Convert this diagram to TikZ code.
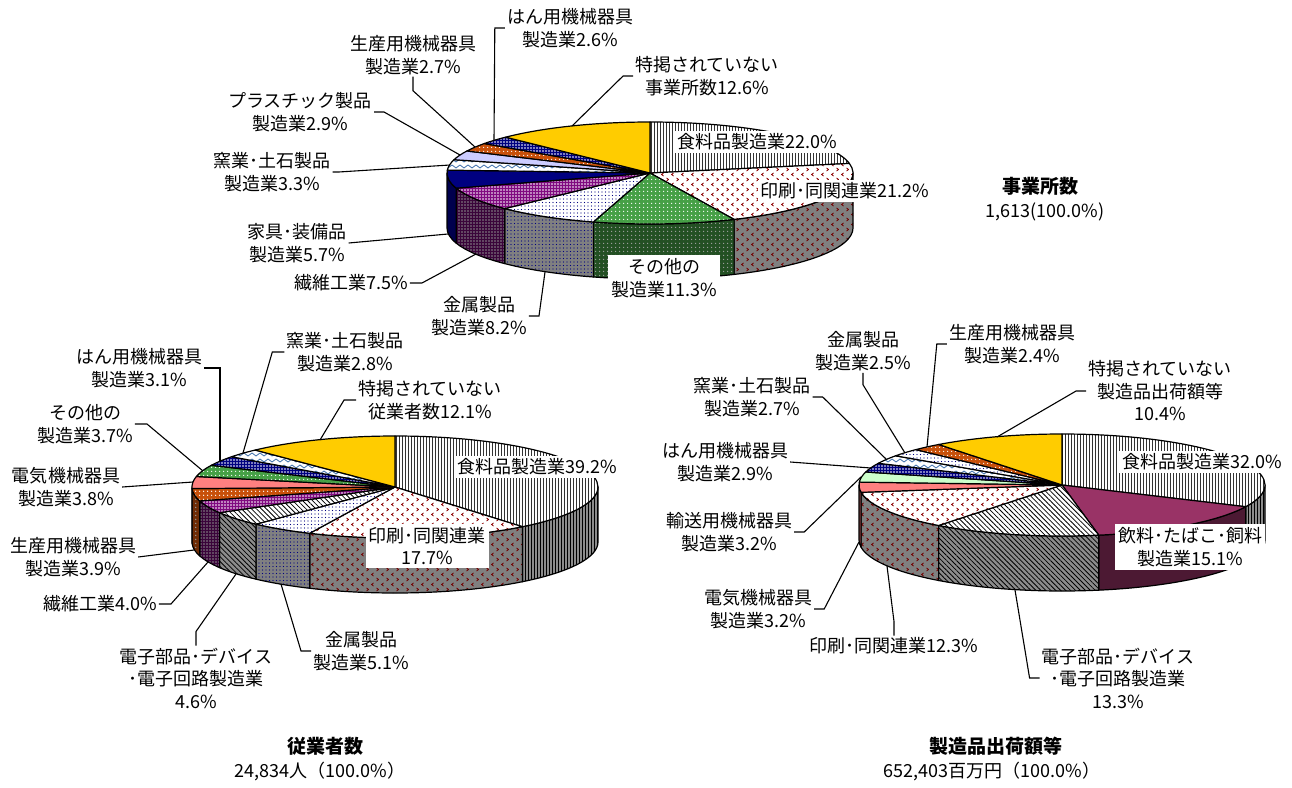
\documentclass[tikz,border=0pt]{standalone}
\usepackage{fontspec}
\newfontfamily\jp{Noto Sans CJK JP}
\usetikzlibrary{patterns.meta}

\definecolor{navy}{RGB}{0,0,128}
\definecolor{ogreen}{RGB}{70,160,70}
\definecolor{purp}{RGB}{128,10,128}
\definecolor{steel}{RGB}{60,110,170}
\definecolor{lavender}{RGB}{204,204,255}
\definecolor{rust}{RGB}{200,80,10}
\definecolor{gold}{RGB}{255,204,0}
\definecolor{salmon}{RGB}{255,128,128}
\definecolor{mint}{RGB}{204,255,204}
\definecolor{plum}{RGB}{153,51,102}

% small carets for the printing slices
\pgfdeclarepattern{
  name=chevron,
  bottom left={\pgfpoint{-.5pt}{-.5pt}},
  top right={\pgfpoint{10.5pt}{10.5pt}},
  tile size={\pgfpoint{10pt}{10pt}},
  code={
    \pgfsetlinewidth{0.8pt}
    \pgfpathmoveto{\pgfpoint{3.5pt}{1pt}}\pgfpathlineto{\pgfpoint{1.5pt}{2.5pt}}\pgfpathlineto{\pgfpoint{3.5pt}{4pt}}
    \pgfpathmoveto{\pgfpoint{6.5pt}{6pt}}\pgfpathlineto{\pgfpoint{8.5pt}{7.5pt}}\pgfpathlineto{\pgfpoint{6.5pt}{9pt}}
    \pgfusepath{stroke}
  }
}
% zigzag for the ceramics slices
\pgfdeclarepattern{
  name=zigzag,
  bottom left={\pgfpoint{-.5pt}{-.5pt}},
  top right={\pgfpoint{8.5pt}{6.5pt}},
  tile size={\pgfpoint{8pt}{6pt}},
  code={
    \pgfsetlinewidth{0.8pt}
    \pgfpathmoveto{\pgfpoint{0pt}{1pt}}\pgfpathlineto{\pgfpoint{4pt}{4pt}}\pgfpathlineto{\pgfpoint{8pt}{1pt}}
    \pgfusepath{stroke}
  }
}

\tikzset{
  wedge/.style={draw=black, line width=1.2pt, line join=round},
  foodtop/.style={wedge, preaction={fill=white}, pattern={Lines[angle=90,distance=3pt,line width=0.7pt]}, pattern color=black!80},
  foodside/.style={wedge, preaction={fill=black!45}, pattern={Lines[angle=90,distance=3pt,line width=0.9pt]}, pattern color=black},
  printtop/.style={wedge, preaction={fill=white}, pattern=chevron, pattern color=red!55!black},
  printside/.style={wedge, preaction={fill=black!50}, pattern=chevron, pattern color=red!45!black},
  othertop/.style={wedge, preaction={fill=ogreen}, pattern={Dots[radius=0.8pt,distance=4pt]}, pattern color=white},
  otherside/.style={wedge, preaction={fill=ogreen!50!black}, pattern={Dots[radius=0.8pt,distance=4pt]}, pattern color=black!35},
  metaltop/.style={wedge, preaction={fill=white}, pattern={Dots[radius=0.6pt,distance=3.5pt]}, pattern color=navy},
  metalside/.style={wedge, preaction={fill=black!50}, pattern={Dots[radius=0.6pt,distance=3.5pt]}, pattern color=navy},
  textiletop/.style={wedge, preaction={fill=purp}, pattern={Dots[radius=0.8pt,distance=3pt]}, pattern color=white},
  textileside/.style={wedge, preaction={fill=purp!45!black}, pattern={Dots[radius=0.8pt,distance=3pt]}, pattern color=black!45},
  furnituretop/.style={wedge, fill=navy},
  furnitureside/.style={wedge, fill=navy!60!black},
  ceramictop/.style={wedge, preaction={fill=white}, pattern=zigzag, pattern color=steel},
  ceramicside/.style={wedge, preaction={fill=black!40}, pattern=zigzag, pattern color=steel},
  plastictop/.style={wedge, fill=lavender},
  plasticside/.style={wedge, fill=lavender!60!black},
  productiontop/.style={wedge, preaction={fill=rust}, pattern={Dots[radius=0.8pt,distance=4pt]}, pattern color=white},
  productionside/.style={wedge, preaction={fill=rust!55!black}, pattern={Dots[radius=0.8pt,distance=4pt]}, pattern color=black!40},
  generaltop/.style={wedge, preaction={fill=navy}, pattern={Dots[radius=0.8pt,distance=3pt]}, pattern color=white},
  generalside/.style={wedge, fill=navy!60!black},
  unlistedtop/.style={wedge, fill=gold},
  unlistedside/.style={wedge, fill=gold!60!black},
  electronictop/.style={wedge, preaction={fill=white}, pattern={Lines[angle=-45,distance=3.5pt,line width=0.8pt]}, pattern color=black},
  electronicside/.style={wedge, preaction={fill=black!45}, pattern={Lines[angle=-45,distance=3.5pt,line width=0.8pt]}, pattern color=black},
  electrictop/.style={wedge, fill=salmon},
  electricside/.style={wedge, fill=salmon!50!black},
  transporttop/.style={wedge, fill=mint},
  transportside/.style={wedge, fill=mint!60!black},
  beveragetop/.style={wedge, fill=plum},
  beverageside/.style={wedge, fill=plum!50!black},
  lbl/.style={font=\jp\fontsize{18}{22.5}\selectfont, align=center, inner sep=2pt},
  box/.style={lbl, fill=white, inner sep=3pt},
  leader/.style={draw=black, line width=1.1pt},
  ttl/.style={font=\jp\bfseries\fontsize{19}{23}\selectfont, inner sep=1pt},
  total/.style={font=\jp\fontsize{18}{22}\selectfont, inner sep=1pt}
}

% one slice: centre, percent, style name (side first, then top face)
\newcommand{\drawwedge}[3]{%
  \pgfmathsetmacro\wa{\wcum}%
  \pgfmathsetmacro\wb{\wcum+3.6*#2}%
  \xdef\wcum{\wb}%
  \pgfmathsetmacro\wsa{max(\wa,0)}%
  \pgfmathsetmacro\wsb{min(\wb,180)}%
  \pgfmathtruncatemacro\wvis{\wsb>\wsa}%
  \ifnum\wvis=1
    \draw[#3side] (#1) ++(\wsa:203 and 51) arc[start angle=\wsa, end angle=\wsb, x radius=203, y radius=51]
      -- ++(0,55) arc[start angle=\wsb, end angle=\wsa, x radius=203, y radius=51] -- cycle;
  \fi
  \draw[#3top] (#1) -- ++(\wa:203 and 51) arc[start angle=\wa, end angle=\wb, x radius=203, y radius=51] -- cycle;
}

\begin{document}
\begin{tikzpicture}[x=1pt, y=-1pt]
  \useasboundingbox (0,0) rectangle (1292,787);

  % Establishments
  \coordinate (ofs-c) at (650,173);
  \gdef\wcum{-90}
  \foreach \p/\nm in {22.0/food, 21.2/print, 11.3/other, 8.2/metal, 7.5/textile, 5.7/furniture,
      3.3/ceramic, 2.9/plastic, 2.7/production, 2.6/general, 12.6/unlisted}
    {\drawwedge{ofs-c}{\p}{\nm}}

  \node[lbl] (ofs-general) at (570,28) {はん用機械器具\\製造業2.6\%};
  \node[lbl] (ofs-production) at (413,55) {生産用機械器具\\製造業2.7\%};
  \node[lbl] (ofs-unlisted) at (707,76) {特掲されていない\\事業所数12.6\%};
  \node[lbl] (ofs-plastic) at (300,112) {プラスチック製品\\製造業2.9\%};
  \node[lbl] (ofs-ceramic) at (272,172) {窯業･土石製品\\製造業3.3\%};
  \node[lbl] (ofs-furniture) at (297,243) {家具･装備品\\製造業5.7\%};
  \node[lbl] (ofs-textile) at (351,283) {繊維工業7.5\%};
  \node[lbl] (ofs-metal) at (479,316) {金属製品\\製造業8.2\%};
  \node[box] (ofs-other) at (664,278) {その他の\\製造業11.3\%};
  \node[box] (ofs-food) at (757,142) {食料品製造業22.0\%};
  \node[box] (ofs-print) at (845,191) {印刷･同関連業21.2\%};

  \coordinate (ofs-general-a) at (494,140);
  \coordinate (ofs-production-a) at (475,147);
  \coordinate (ofs-unlisted-a) at (572,126);
  \coordinate (ofs-plastic-a) at (460,155);
  \coordinate (ofs-ceramic-a) at (450,165);
  \coordinate (ofs-furniture-a) at (448,234);
  \coordinate (ofs-textile-a) at (476,254);
  \coordinate (ofs-metal-a) at (545,272);

  \draw[leader] (ofs-general.west) -- ++(-10,0) -- (ofs-general-a);
  \draw[leader] (ofs-production.south) -- ++(0,14) -- (ofs-production-a);
  \draw[leader] (ofs-unlisted.west) -- ++(-10,0) -- (ofs-unlisted-a);
  \draw[leader] (ofs-plastic.east) -- ++(10,0) -- (ofs-plastic-a);
  \draw[leader] (ofs-ceramic.east) -- ++(6,0) -- (ofs-ceramic-a);
  \draw[leader] (ofs-furniture.east) -- (ofs-furniture-a);
  \draw[leader] (ofs-textile.east) -- ++(12,0) -- (ofs-textile-a);
  \draw[leader] (ofs-metal.east) -- ++(10,0) -- (ofs-metal-a);

  \node[ttl] (ofs-title) at (1040,186) {事業所数};
  \node[total] (ofs-total) at (1045,212) {1,613(100.0\%)};

  % Employees
  \coordinate (emp-c) at (395,487);
  \gdef\wcum{-90}
  \foreach \p/\nm in {39.2/food, 17.7/print, 5.1/metal, 4.6/electronic, 4.0/textile, 3.9/production,
      3.8/electric, 3.7/other, 3.1/general, 2.8/ceramic, 12.1/unlisted}
    {\drawwedge{emp-c}{\p}{\nm}}

  \node[lbl] (emp-general) at (139,368) {はん用機械器具\\製造業3.1\%};
  \node[lbl] (emp-ceramic) at (345,352) {窯業･土石製品\\製造業2.8\%};
  \node[lbl] (emp-unlisted) at (430,400) {特掲されていない\\従業者数12.1\%};
  \node[lbl] (emp-other) at (85,424) {その他の\\製造業3.7\%};
  \node[lbl] (emp-electric) at (66,487) {電気機械器具\\製造業3.8\%};
  \node[lbl] (emp-production) at (73,557) {生産用機械器具\\製造業3.9\%};
  \node[lbl] (emp-textile) at (100,604) {繊維工業4.0\%};
  \node[lbl] (emp-electronic) at (196,678) {電子部品･デバイス\\･電子回路製造業\\4.6\%};
  \node[lbl] (emp-metal) at (361,651) {金属製品\\製造業5.1\%};
  \node[box] (emp-print) at (427,546) {印刷･同関連業\\17.7\%};
  \node[box] (emp-food) at (537,467) {食料品製造業39.2\%};

  \coordinate (emp-general-a) at (220,461);
  \coordinate (emp-ceramic-a) at (243,453);
  \coordinate (emp-unlisted-a) at (320,440);
  \coordinate (emp-other-a) at (203,471);
  \coordinate (emp-electric-a) at (193,482);
  \coordinate (emp-production-a) at (194,550);
  \coordinate (emp-textile-a) at (208,562);
  \coordinate (emp-electronic-a) at (236,574);
  \coordinate (emp-metal-a) at (281,584);

  \draw[leader] (emp-general.east) -| (emp-general-a);
  \draw[leader] (emp-ceramic.west) -- ++(-12,0) -- (emp-ceramic-a);
  \draw[leader] (emp-unlisted.west) -- ++(-12,0) -- (emp-unlisted-a);
  \draw[leader] (emp-other.east) -- ++(12,0) -- (emp-other-a);
  \draw[leader] (emp-electric.east) -- (emp-electric-a);
  \draw[leader] (emp-production.east) -- (emp-production-a);
  \draw[leader] (emp-textile.east) -- ++(12,0) -- (emp-textile-a);
  \draw[leader] (emp-electronic.north) -- ++(0,-14) -- (emp-electronic-a);
  \draw[leader] (emp-metal.west) -- ++(-10,0) -- (emp-metal-a);

  \node[ttl] (emp-title) at (325,746) {従業者数};
  \node[total] (emp-total) at (320,771) {24,834人（100.0\%）};

  % Shipments
  \coordinate (shp-c) at (1062,485);
  \gdef\wcum{-90}
  \foreach \p/\nm in {32.0/food, 15.1/beverage, 13.3/electronic, 12.3/print, 3.2/electric, 3.2/transport,
      2.9/general, 2.7/ceramic, 2.5/metal, 2.4/production, 10.4/unlisted}
    {\drawwedge{shp-c}{\p}{\nm}}

  \node[lbl] (shp-metal) at (863,351) {金属製品\\製造業2.5\%};
  \node[lbl] (shp-production) at (1012,344) {生産用機械器具\\製造業2.4\%};
  \node[lbl] (shp-unlisted) at (1160,391) {特掲されていない\\製造品出荷額等\\10.4\%};
  \node[lbl] (shp-ceramic) at (752,397) {窯業･土石製品\\製造業2.7\%};
  \node[lbl] (shp-general) at (725,462) {はん用機械器具\\製造業2.9\%};
  \node[lbl] (shp-transport) at (729,532) {輸送用機械器具\\製造業3.2\%};
  \node[lbl] (shp-electric) at (758,609) {電気機械器具\\製造業3.2\%};
  \node[lbl] (shp-print) at (894,646) {印刷･同関連業12.3\%};
  \node[lbl] (shp-electronic) at (1118,678) {電子部品･デバイス\\･電子回路製造業\\13.3\%};
  \node[box] (shp-food) at (1202,462) {食料品製造業32.0\%};
  \node[box] (shp-beverage) at (1190,547) {飲料･たばこ･飼料\\製造業15.1\%};

  \coordinate (shp-metal-a) at (905,453);
  \coordinate (shp-production-a) at (927,447);
  \coordinate (shp-unlisted-a) at (997,437);
  \coordinate (shp-ceramic-a) at (886,459);
  \coordinate (shp-general-a) at (871,468);
  \coordinate (shp-transport-a) at (861,477);
  \coordinate (shp-electric-a) at (859,542);
  \coordinate (shp-print-a) at (887,566);
  \coordinate (shp-electronic-a) at (1015,590);

  \draw[leader] (shp-metal.south) -- ++(0,12) -- (shp-metal-a);
  \draw[leader] (shp-production.west) -- ++(-10,0) -- (shp-production-a);
  \draw[leader] (shp-unlisted.west) -- ++(-10,0) -- (shp-unlisted-a);
  \draw[leader] (shp-ceramic.east) -- ++(10,0) -- (shp-ceramic-a);
  \draw[leader] (shp-general.east) -- (shp-general-a);
  \draw[leader] (shp-transport.east) -- ++(10,0) -- (shp-transport-a);
  \draw[leader] (shp-electric.east) -- ++(10,0) -- (shp-electric-a);
  \draw[leader] (shp-print.north) -- ++(0,-14) -- (shp-print-a);
  \draw[leader] (shp-electronic.west) -- ++(-10,0) -- (shp-electronic-a);

  \node[ttl] (shp-title) at (996,746) {製造品出荷額等};
  \node[total] (shp-total) at (992,771) {652,403百万円（100.0\%）};

\end{tikzpicture}
\end{document}
